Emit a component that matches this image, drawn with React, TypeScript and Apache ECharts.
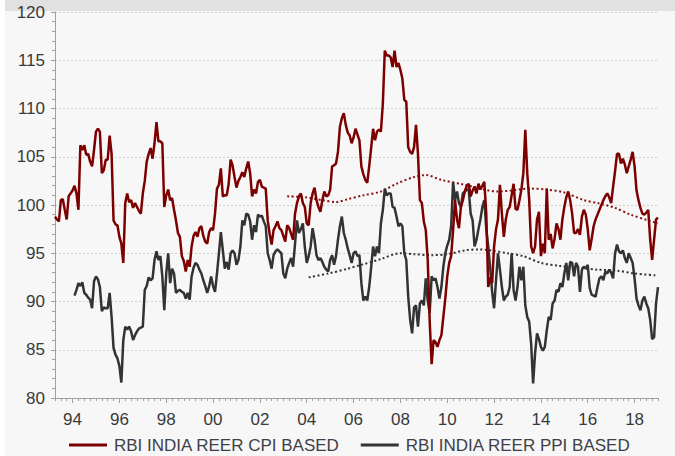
import React, { useEffect, useRef } from "react";
import * as echarts from "echarts";

// Monthly data, Apr 1993 .. Jan 2019
const startYear = 1993;
const startMonth = 4;
const monthCount = 310;

const xTickLabels = ["94", "96", "98", "00", "02", "04", "06", "08", "10", "12", "14", "16", "18"];
const yTicks = [80, 85, 90, 95, 100, 105, 110, 115, 120];

const cpiName = "RBI INDIA REER CPI BASED";
const ppiName = "RBI INDIA REER PPI BASED";

const cpiValues = [
  // 1993 Apr-Dec
  98.8, 98.5, 98.3, 100.5, 100.6, 99.5, 98.5, 100.9, 101.2,
  // 1994
  101.5, 102, 101.2, 99.5, 106.2, 105.7, 106.2, 105.2, 105.3, 104.5, 104, 105.7,
  // 1995
  107.6, 107.9, 107.6, 103.3, 103.6, 104.7, 104.7, 107.2, 105.3, 98.4, 98, 97.9,
  // 1996
  96.7, 96, 94, 100.2, 101.2, 100.3, 100.5, 99.7, 100.2, 99.8, 99.4, 99.1,
  // 1997
  101.2, 102.5, 104.5, 105.3, 105.9, 104.8, 106.4, 108.6, 106.6, 106.6, 106.4, 99.8,
  // 1998
  101, 101.6, 100.5, 100.7, 99.5, 98.4, 97.1, 96.7, 94.7, 94.2, 93.1, 94.3,
  // 1999
  93.6, 95.7, 96.8, 97.2, 96.7, 97.6, 97.8, 96.8, 96.2, 96, 97.2, 97.6,
  // 2000
  97.4, 99.1, 101.7, 102.1, 103.8, 100.9, 101, 101, 102.2, 104.7, 104.1, 102.9,
  // 2001
  101.8, 102.5, 102.9, 103.4, 102.9, 103.8, 104.5, 103.3, 100.9, 101.6, 101.2, 102.4,
  // 2002
  102.6, 101.9, 101.8, 101.7, 98.4, 97, 95.9, 97.4, 97.8, 98.3, 97.6, 97.4,
  // 2003
  96.8, 96.2, 97.9, 97.6, 97, 96.4, 99.1, 100.2, 100.9, 101.2, 100.2, 99.8,
  // 2004
  98.1, 97.9, 100.2, 101.2, 101.8, 100.5, 99.8, 99.3, 100.5, 101.4, 100.9, 101,
  // 2005
  101.6, 104, 104.1, 104.3, 105.5, 108.1, 109, 109.5, 108.3, 107.5, 107.2, 106.4,
  // 2006
  107, 107.9, 107.3, 106.7, 104, 103.2, 102.6, 102.3, 104, 105.9, 107.9, 106.7,
  // 2007
  107.6, 107.8, 107.6, 110.5, 116, 115.5, 115.5, 115.3, 114.3, 116, 114.3, 114.7,
  // 2008
  114, 113.1, 110.9, 110.7, 106, 105.5, 105.3, 106, 108.3, 105.3, 100.5, 100.2,
  // 2009
  98.3, 97.4, 94.3, 88, 83.5, 86, 85.8, 85.3, 86, 86.5, 88.4, 90.3,
  // 2010
  92.6, 94, 94.7, 97.4, 100.5, 98.5, 97.6, 99.8, 100.5, 101.4, 102, 102.2,
  // 2011
  100.9, 101.5, 101.9, 101.2, 102.2, 101.6, 102, 102.4, 99.1, 91.5, 92.5, 91.9,
  // 2012
  95.7, 97.5, 98.5, 102.1, 99.1, 96.7, 98.5, 99.5, 99.8, 101, 102.2, 99.6,
  // 2013
  99.5, 100.5, 101.6, 103.3, 107.8, 103.3, 100.5, 95.7, 95, 95.7, 98.5, 99.3,
  // 2014
  94.7, 96, 95, 101.7, 96.4, 97, 95.5, 96.5, 98.1, 97.5, 96.4, 98.5,
  // 2015
  99.8, 100.8, 101.4, 100.5, 99.1, 97.1, 97.1, 97.5, 96.9, 98.8, 99.5, 99,
  // 2016
  97.5, 95.3, 96.5, 97.8, 98.5, 99, 99.5, 100, 100.5, 100.9, 101.2, 100.8,
  // 2017
  100.2, 101.9, 103.5, 105.3, 105.3, 104.3, 104.8, 104.2, 103.3, 104, 104.7, 105.5,
  // 2018
  104, 101.5, 100.5, 99.7, 99.1, 99, 99.2, 99.5, 96.4, 94.3, 96.4, 98.5,
  // 2019 Jan
  98.7,
];

const ppiValues = [
  // 1993 Apr-Dec
  null, null, null, null, null, null, null, null, null,
  // 1994
  null, 90.6, 91.2, 91.9, 91.6, 92, 90.9, 90.7, 90.4, 90.2, 89.3, 92.1,
  // 1995
  92.6, 92.3, 91.5, 89, 89.4, 89.3, 89.3, 90.9, 88.4, 85.2, 84.5, 84.1,
  // 1996
  83.3, 81.6, 86, 87.4, 87.1, 87.4, 86.9, 86, 86.5, 86.9, 87.2, 87.3,
  // 1997
  87.4, 91.2, 91.6, 92.5, 92.2, 92.4, 94.3, 95.2, 94.3, 94.7, 92.6, 89.1,
  // 1998
  92.9, 95, 91.9, 93.4, 92.9, 90.9, 91.1, 91.2, 91, 90.9, 90.3, 90.9,
  // 1999
  90.2, 92.6, 93.5, 94, 93.8, 93.3, 92.9, 92.2, 91.6, 90.9, 91.6, 92.6,
  // 2000
  91.6, 91, 92.9, 95, 97.2, 95.3, 93.4, 94.1, 93.3, 95, 95.3, 95,
  // 2001
  93.8, 94.3, 95.7, 98.4, 97.9, 99.1, 99, 98.3, 96.4, 97.9, 97.2, 99,
  // 2002
  98.8, 98.9, 98.3, 97.8, 95, 94.3, 93.4, 94.8, 95.2, 95.4, 95.2, 95,
  // 2003
  92.9, 92.4, 93.4, 94, 94.5, 93.6, 96, 98.4, 97.1, 97.5, 98.1, 95.7,
  // 2004
  94, 94.7, 95.7, 97.6, 96.4, 94.8, 94.3, 94.5, 94.1, 93.6, 93.3, 93.1,
  // 2005
  94.3, 94.8, 93.8, 94.7, 96.4, 97.8, 98.8, 97.1, 96.4, 95.5, 94.8, 94,
  // 2006
  95, 95.2, 94.7, 94.8, 91.9, 90.1, 90.5, 90.1, 91.5, 93.5, 95.7, 94.7,
  // 2007
  95.7, 95, 98.1, 99.5, 101.7, 101, 101.2, 101.2, 99.8, 99.7, 98.8, 97.8,
  // 2008
  98.1, 97.8, 95, 94.3, 90.5, 88.1, 86.7, 89.4, 89.6, 87.4, 89.8, 90.1,
  // 2009
  89.6, 92.4, 90.1, 88.8, 92.6, 92.2, 92.4, 91.5, 90.3, 91.5, 93.6, 95,
  // 2010
  95.8, 96.4, 97.8, 102.4, 100.5, 101.4, 100.2, 99.8, 101.2, 101.4, 101.6, 101.6,
  // 2011
  99.1, 98.4, 95.7, 96.4, 97.5, 98.5, 99.8, 100.5, 97.5, 95.7, 93.5, 91,
  // 2012
  89.3, 92.2, 95, 93.3, 91.5, 90.1, 90.5, 90.7, 91.5, 95, 91.2, 90.1,
  // 2013
  91.5, 93.6, 92.2, 93.6, 89.6, 88.4, 87.9, 85.6, 81.5, 84.6, 86.7, 86.1,
  // 2014
  85.3, 84.9, 85.3, 87, 88.4, 88.1, 89.8, 90.1, 91.2, 91, 91.9, 91.5,
  // 2015
  92.9, 94, 92.2, 94.1, 94, 92.6, 94, 93.6, 91, 93.3, 93.6, 93.4,
  // 2016
  93.8, 91.4, 90.7, 90.6, 90.5, 91.5, 92.4, 92.6, 92.2, 93.1, 92.9, 93.3,
  // 2017
  93, 92.4, 95, 95.9, 95.2, 95, 95.3, 94.5, 94, 95, 94.5, 94,
  // 2018
  92.4, 90.3, 89.6, 89.1, 90.1, 90.5, 89.8, 89.3, 88.1, 86.1, 86.3, 89.8,
  // 2019 Jan
  91.5,
];

const cpiTrendDates = [
  "2003-03", "2003-12", "2004-09", "2005-04", "2005-10", "2006-06", "2007-03", "2007-11",
  "2008-08", "2009-02", "2009-10", "2010-10", "2012-03", "2013-08", "2014-04", "2015-01",
  "2015-11", "2016-06", "2017-03", "2017-11", "2018-08", "2019-01",
];
const cpiTrendValues = [
  100.9, 100.8, 100.5, 100.3, 100.6, 101.0, 101.4, 102.2,
  102.9, 103.1, 102.6, 102.1, 101.4, 101.7, 101.6, 101.3,
  100.5, 100.2, 99.7, 99.0, 98.4, 98.1,
];

const ppiTrendDates = [
  "2004-02", "2004-12", "2005-10", "2006-05", "2007-03", "2008-01", "2008-08", "2009-05",
  "2010-01", "2010-10", "2011-05", "2011-11", "2012-08", "2013-04", "2014-01", "2014-10",
  "2015-08", "2016-06", "2017-04", "2018-01", "2019-01",
];
const ppiTrendValues = [
  92.5, 92.9, 93.4, 93.8, 94.4, 95.0, 94.9, 94.8,
  94.9, 95.3, 95.4, 95.3, 95.0, 94.7, 94.0, 93.7,
  93.5, 93.3, 93.2, 92.9, 92.7,
];

const categories: string[] = [];
for (let k = 0; k < monthCount; k++) {
  const m0 = startMonth - 1 + k;
  const y = startYear + Math.floor(m0 / 12);
  const m = (m0 % 12) + 1;
  categories.push(`${y}-${m < 10 ? "0" + m : m}`);
}

function trendSeriesData(dates: string[], values: number[]) {
  const arr: (number | null)[] = categories.map(() => null);
  dates.forEach((d, j) => {
    const idx = categories.indexOf(d);
    if (idx >= 0) arr[idx] = values[j];
  });
  return arr;
}

function isMajor(value: string) {
  const y = parseInt(value.slice(0, 4), 10);
  return value.endsWith("-01") && y % 2 === 0;
}

const CPI_COLOR = "#7d0000";
const PPI_COLOR = "#333333";
const FONT = "'Liberation Sans', Arial, sans-serif";

export default function App() {
  const ref = useRef<HTMLDivElement>(null);
  useEffect(() => {
    if (!ref.current) return;
    const chart = echarts.init(ref.current, null, { renderer: "svg" });
    const option: any = {
      animation: false,
      backgroundColor: "#f7f7f7",
      textStyle: { fontFamily: FONT },
      graphic: [
        { type: "rect", shape: { x: 0, y: 0, width: 5, height: 456 }, style: { fill: "#ffffff" }, silent: true },
        { type: "rect", shape: { x: 5, y: 0, width: 670, height: 11 }, style: { fill: "#e1e1e1" }, silent: true },
      ],
      grid: { left: 55, right: 17, top: 12, bottom: 58, containLabel: false },
      legend: {
        data: [cpiName, ppiName],
        left: 69,
        top: 436,
        padding: 0,
        icon: "rect",
        itemWidth: 38,
        itemHeight: 3,
        itemGap: 21,
        textStyle: { fontSize: 17, lineHeight: 18, color: "#3e4048", fontFamily: FONT, padding: [0, 0, 0, 2] },
      },
      xAxis: [
        {
          type: "category",
          data: categories,
          boundaryGap: false,
          axisLine: { show: true, lineStyle: { color: "#a0a0a0", width: 1 } },
          axisTick: {
            show: true,
            length: 3,
            interval: (i: number, v: string) => (parseInt(v.slice(5, 7), 10) - 1) % 3 === 0,
            lineStyle: { color: "#a0a0a0" },
          },
          axisLabel: {
            interval: (i: number, v: string) => isMajor(v),
            formatter: (v: string) => {
              const lab = v.slice(2, 4);
              return xTickLabels.indexOf(lab) >= 0 ? lab : "";
            },
            fontSize: 17,
            color: "#3a3a3a",
            margin: 13,
            fontFamily: FONT,
          },
          splitLine: { show: false },
        },
        {
          type: "category",
          data: categories,
          boundaryGap: false,
          position: "bottom",
          axisLine: { show: false },
          axisTick: {
            show: true,
            length: 5,
            interval: (i: number, v: string) => isMajor(v),
            lineStyle: { color: "#a0a0a0" },
          },
          axisLabel: { show: false },
          splitLine: { show: false },
        },
      ],
      yAxis: {
        type: "value",
        min: yTicks[0],
        max: yTicks[yTicks.length - 1],
        interval: 5,
        axisLine: { show: true, lineStyle: { color: "#a0a0a0", width: 1 } },
        axisTick: { show: true, length: 4, lineStyle: { color: "#a0a0a0" } },
        minorTick: { show: true, splitNumber: 5, length: 3, lineStyle: { color: "#a0a0a0" } },
        axisLabel: { fontSize: 17, color: "#3a3a3a", margin: 10, fontFamily: FONT },
        splitLine: { show: true, lineStyle: { color: "#cfcfcf", type: [2, 2], width: 1 } },
      },
      series: [
        {
          name: ppiName,
          type: "line",
          data: ppiValues,
          showSymbol: false,
          symbol: "none",
          lineStyle: { color: PPI_COLOR, width: 2.5 },
          itemStyle: { color: PPI_COLOR },
          z: 3,
        },
        {
          name: cpiName,
          type: "line",
          data: cpiValues,
          showSymbol: false,
          symbol: "none",
          lineStyle: { color: CPI_COLOR, width: 2.5 },
          itemStyle: { color: CPI_COLOR },
          z: 4,
        },
        {
          name: "CPI trend",
          type: "line",
          data: trendSeriesData(cpiTrendDates, cpiTrendValues),
          connectNulls: true,
          smooth: 0.3,
          showSymbol: false,
          symbol: "none",
          lineStyle: { color: "#8a1010", width: 2, type: [2, 2.5] },
          z: 2,
        },
        {
          name: "PPI trend",
          type: "line",
          data: trendSeriesData(ppiTrendDates, ppiTrendValues),
          connectNulls: true,
          smooth: 0.3,
          showSymbol: false,
          symbol: "none",
          lineStyle: { color: "#333333", width: 2, type: [2, 2.5] },
          z: 2,
        },
      ],
    };
    chart.setOption(option);
    return () => chart.dispose();
  }, []);
  return (
    <div
      ref={ref}
      style={{ position: "absolute", left: 0, top: 0, width: 675, height: 456 }}
    />
  );
}
